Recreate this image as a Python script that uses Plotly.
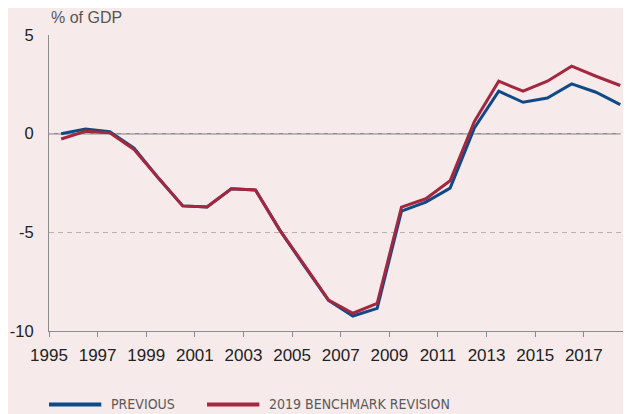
import plotly.graph_objects as go

# years (points sit mid-year)
years = [1995.5, 1996.5, 1997.5, 1998.5, 1999.5, 2000.5, 2001.5, 2002.5,
         2003.5, 2004.5, 2005.5, 2006.5, 2007.5, 2008.5, 2009.5, 2010.5,
         2011.5, 2012.5, 2013.5, 2014.5, 2015.5, 2016.5, 2017.5, 2018.5]

# budget balance, % of GDP
previous = [0.0, 0.24, 0.1, -0.73, -2.25, -3.66, -3.72, -2.79,
            -2.86, -4.9, -6.7, -8.45, -9.24, -8.85, -3.92, -3.47,
            -2.76, 0.29, 2.15, 1.59, 1.81, 2.52, 2.1, 1.47]
revision = [-0.27, 0.12, 0.05, -0.8, -2.25, -3.66, -3.72, -2.79,
            -2.86, -4.9, -6.65, -8.43, -9.1, -8.6, -3.72, -3.3,
            -2.39, 0.62, 2.66, 2.15, 2.66, 3.42, 2.91, 2.44]

tick_years = list(range(1995, 2018, 2))
y_ticks = [-10, -5, 0, 5]
y_labels = ["-10", "-5", "0", "5"]

BLUE = "#0f4a87"
RED = "#a3283f"
BG = "#f6eaeb"

fig = go.Figure()
fig.add_trace(go.Scatter(x=years, y=previous, mode="lines", name="PREVIOUS",
                         line=dict(color=BLUE, width=3)))
fig.add_trace(go.Scatter(x=years, y=revision, mode="lines", name="2019 BENCHMARK REVISION",
                         line=dict(color=RED, width=3)))

# solid zero line, only as far as the data
fig.add_shape(type="line", xref="x", yref="y", x0=1995, x1=years[-1], y0=0, y1=0,
              line=dict(color="#8c8c8c", width=1.5), layer="below")

# legend drawn by hand so the swatches are long
legend_y = -0.248
for x0, color, label in [(0.0, BLUE, "PREVIOUS"), (0.272, RED, "2019 BENCHMARK REVISION")]:
    fig.add_shape(type="line", xref="paper", yref="paper", x0=x0, x1=x0 + 0.09,
                  y0=legend_y, y1=legend_y, line=dict(color=color, width=4))
    fig.add_annotation(xref="paper", yref="paper", x=x0 + 0.103, y=legend_y,
                       text=label, showarrow=False, xanchor="left", yanchor="middle",
                       font=dict(family="Liberation Sans Narrow, DejaVu Sans Condensed, sans-serif",
                                 size=14, color="#5a5a5a"))

fig.add_annotation(xref="paper", yref="paper", x=0, y=1.0, yshift=7,
                   text="% of GDP", showarrow=False, xanchor="left", yanchor="bottom",
                   font=dict(family="Liberation Sans, Arial, sans-serif", size=16, color="#555555"))

# page body has an 8px margin, so the figure is a bit smaller than the window
fig.update_layout(
    width=623, height=406,
    margin=dict(l=41, r=1, t=27, b=83),
    paper_bgcolor=BG, plot_bgcolor=BG,
    showlegend=False,
    font=dict(family="Liberation Sans, Arial, sans-serif", size=17, color="#222222"),
)
fig.update_xaxes(range=[1995, 2018.9], tickvals=tick_years, ticktext=[str(y) for y in tick_years],
                 showgrid=False, zeroline=False, showline=True, linecolor="#8c8c8c", linewidth=1,
                 ticks="outside", ticklen=5, tickcolor="#8c8c8c", ticklabelstandoff=4,
                 automargin=False)
fig.update_yaxes(range=[-10, 5], tickvals=y_ticks, ticktext=y_labels,
                 tickfont=dict(size=16.5),
                 showgrid=True, gridcolor="#b8b0b1", griddash="5px,4px", gridwidth=1,
                 zeroline=False, showline=True, linecolor="#8c8c8c", linewidth=1,
                 ticks="", ticklabelstandoff=11, automargin=False)

fig.write_html("out.html")
